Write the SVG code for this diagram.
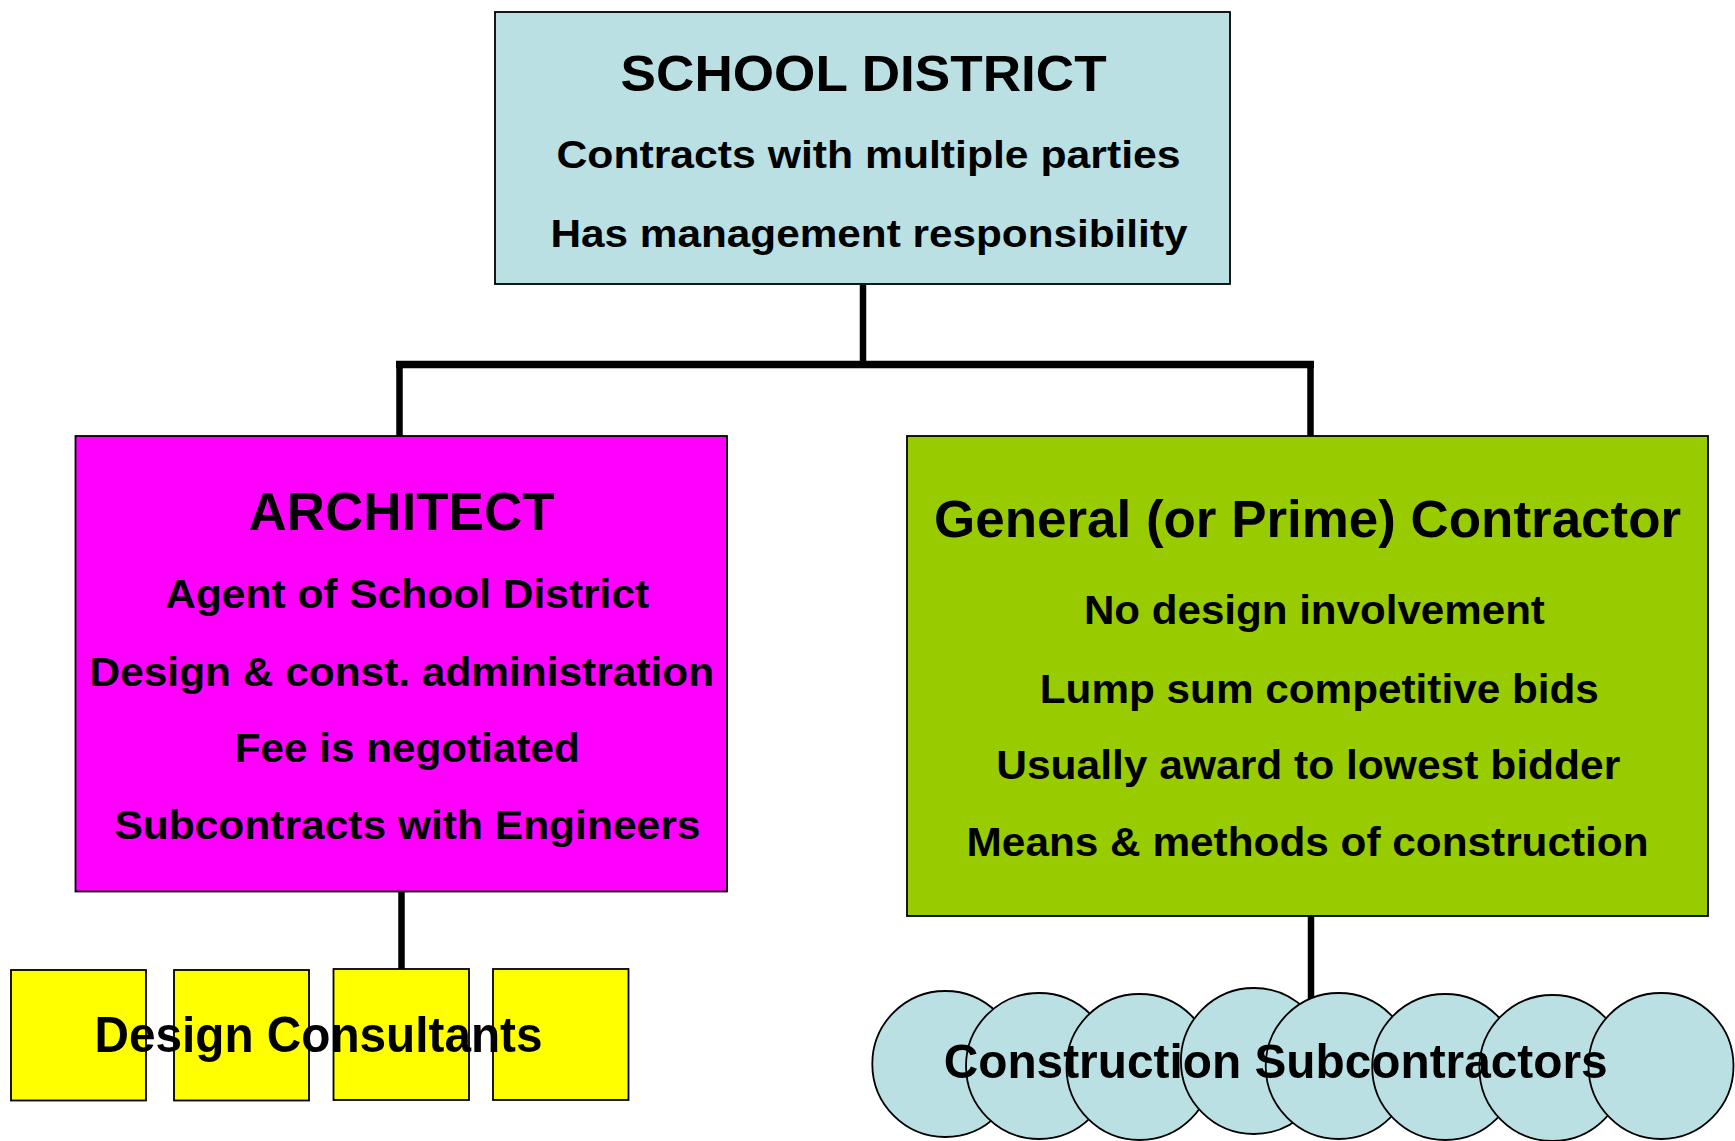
<svg xmlns="http://www.w3.org/2000/svg" width="1735" height="1141" viewBox="0 0 1735 1141">
<style>
  .box { stroke: #000; stroke-width: 1.8; }
  .sd { fill: #BBE0E3; }
  .arch { fill: #FF00FF; }
  .gc { fill: #99CC00; }
  .dc { fill: #FFFF00; }
  .sub { fill: #BBE0E3; stroke: #000; stroke-width: 1.8; }
  .conn { stroke: #000; stroke-width: 6.5; fill: none; stroke-linecap: butt; }
  text { font-family: "Liberation Sans", Arial, sans-serif; font-weight: bold; fill: #000; text-anchor: middle; }
  .t1 { font-size: 50px; }
  .t2 { font-size: 38px; }
  .t3 { font-size: 40px; }
</style>
<rect width="1735" height="1141" fill="#fff"/>
<g id="connectors">
  <line class="conn" x1="863" y1="285" x2="863" y2="364"/>
  <line class="conn" x1="396" y1="364.5" x2="1314" y2="364.5" style="stroke-width:7.5"/>
  <line class="conn" x1="399.5" y1="364" x2="399.5" y2="436"/>
  <line class="conn" x1="1310.5" y1="364" x2="1310.5" y2="436"/>
  <line class="conn" x1="401.5" y1="892" x2="401.5" y2="970"/>
  <line class="conn" x1="1311" y1="916" x2="1311" y2="1040"/>
</g>
<g id="school-district">
  <rect class="box sd" x="495" y="12" width="735" height="272"/>
  <text class="t1" x="863.6" y="90.7" textLength="486" lengthAdjust="spacingAndGlyphs">SCHOOL DISTRICT</text>
  <text class="t2" x="868.5" y="168.3" textLength="624" lengthAdjust="spacingAndGlyphs">Contracts with multiple parties</text>
  <text class="t2" x="869" y="246.7" textLength="637" lengthAdjust="spacingAndGlyphs">Has management responsibility</text>
</g>
<g id="architect">
  <rect class="box arch" x="75.5" y="436" width="651.5" height="455.5"/>
  <text x="401.5" y="530" style="font-size:53.5px" textLength="306" lengthAdjust="spacingAndGlyphs">ARCHITECT</text>
  <text class="t3" x="407.2" y="608.3" textLength="484" lengthAdjust="spacingAndGlyphs">Agent of School District</text>
  <text class="t3" x="401.8" y="685.7" textLength="624.5" lengthAdjust="spacingAndGlyphs">Design &amp; const. administration</text>
  <text class="t3" x="407.2" y="762.3" textLength="345" lengthAdjust="spacingAndGlyphs">Fee is negotiated</text>
  <text class="t3" x="407.4" y="839" textLength="586" lengthAdjust="spacingAndGlyphs">Subcontracts with Engineers</text>
</g>
<g id="general-contractor">
  <rect class="box gc" x="907" y="436" width="801" height="480"/>
  <text x="1307.6" y="536.7" style="font-size:51px" textLength="747" lengthAdjust="spacingAndGlyphs">General (or Prime) Contractor</text>
  <text class="t3" x="1314.4" y="624" textLength="461" lengthAdjust="spacingAndGlyphs">No design involvement</text>
  <text class="t3" x="1319.3" y="702.7" textLength="559" lengthAdjust="spacingAndGlyphs">Lump sum competitive bids</text>
  <text class="t3" x="1308.2" y="779" textLength="624" lengthAdjust="spacingAndGlyphs">Usually award to lowest bidder</text>
  <text class="t3" x="1307.6" y="856" textLength="682" lengthAdjust="spacingAndGlyphs">Means &amp; methods of construction</text>
</g>
<g id="design-consultants">
  <rect class="box dc" x="11" y="970" width="135" height="130.5"/>
  <rect class="box dc" x="174" y="970" width="135" height="130.5"/>
  <rect class="box dc" x="333.5" y="969" width="135.5" height="131"/>
  <rect class="box dc" x="493" y="969" width="135.5" height="131"/>
  <text x="318.5" y="1051.7" style="font-size:50px" textLength="448" lengthAdjust="spacingAndGlyphs">Design Consultants</text>
</g>
<g id="construction-subcontractors">
  <ellipse class="sub" cx="945.3" cy="1064" rx="73" ry="73"/>
  <ellipse class="sub" cx="1039" cy="1066" rx="73" ry="73"/>
  <ellipse class="sub" cx="1139.5" cy="1067" rx="73" ry="73"/>
  <ellipse class="sub" cx="1253.9" cy="1061" rx="73" ry="73"/>
  <ellipse class="sub" cx="1338.7" cy="1066" rx="73" ry="73"/>
  <ellipse class="sub" cx="1445.2" cy="1067" rx="73" ry="73"/>
  <ellipse class="sub" cx="1552.4" cy="1068" rx="73" ry="73"/>
  <ellipse class="sub" cx="1661" cy="1066" rx="72.5" ry="73"/>
  <text x="1275.7" y="1078.3" style="font-size:49px" textLength="664" lengthAdjust="spacingAndGlyphs">Construction Subcontractors</text>
</g>
</svg>
